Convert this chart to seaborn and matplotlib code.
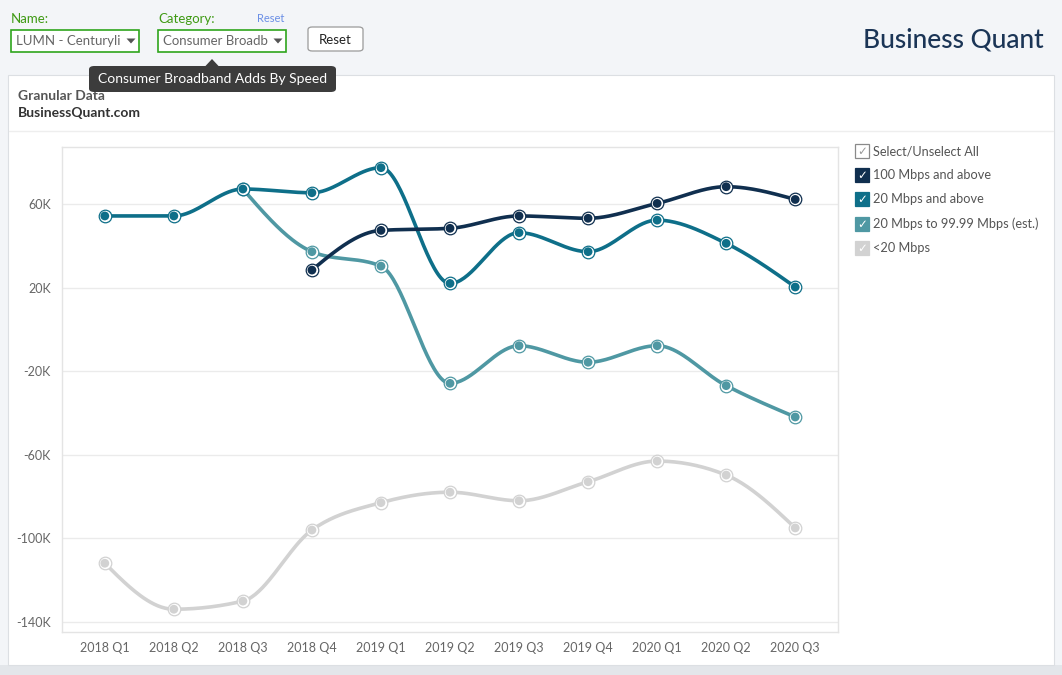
import numpy as np
import pandas as pd
import matplotlib
matplotlib.use("Agg")
import matplotlib.pyplot as plt
from matplotlib.patches import Rectangle, FancyBboxPatch, Polygon
import seaborn as sns

# ---------------- data ----------------
quarters = ["2018 Q1", "2018 Q2", "2018 Q3", "2018 Q4", "2019 Q1", "2019 Q2",
            "2019 Q3", "2019 Q4", "2020 Q1", "2020 Q2", "2020 Q3"]
series_names = ["100 Mbps and above", "20 Mbps and above",
                "20 Mbps to 99.99 Mbps (est.)", "<20 Mbps"]
mbps100_plus = [None, None, None, 28.4, 47.4, 48.4, 54.3, 53.2, 60.3, 68.3, 62.2]
mbps20_plus = [54.3, 54.3, 67.2, 65.4, 77.4, 22.0, 46.3, 37.2, 52.3, 41.2, 20.3]
mbps20_to_99 = [None, None, 67.2, 37.2, 30.3, -25.8, -7.8, -15.7, -7.8, -26.9, -41.9]
mbps_under20 = [-111.9, -133.9, -130.0, -96.0, -82.9, -77.9, -82.0, -72.9, -63.0, -69.7, -95.0]
y_ticks = [60, 20, -20, -60, -100, -140]
colors = ["#102f4f", "#0e6f89", "#4f98a3", "#d2d2d2"]
values = [mbps100_plus, mbps20_plus, mbps20_to_99, mbps_under20]

sns.set_theme(style="white")
plt.rcParams['font.family'] = ['Lato', 'DejaVu Sans']

W, H = 1062, 675
fig = plt.figure(figsize=(W / 100, H / 100), dpi=100)
fig.patch.set_facecolor("#f3f5f8")


def fx(x):
    return x / W


def fy(y):
    return 1 - y / H


# background pieces
fig.patches.append(Rectangle((0, fy(675)), 1, 10 / H, transform=fig.transFigure,
                             facecolor="#e3e6ea", edgecolor="none", zorder=-3))
fig.patches.append(Rectangle((fx(8), fy(665)), (1054 - 8) / W, (665 - 75) / H,
                             transform=fig.transFigure, facecolor="white",
                             edgecolor="#dcdfe3", linewidth=0.8, zorder=-2))
fig.lines.append(plt.Line2D([fx(9), fx(1053)], [fy(131), fy(131)],
                            transform=fig.transFigure, color="#eeeeee", lw=1, zorder=-1))

# ---------------- header controls ----------------
green = "#3f9a14"
fig.text(fx(11), fy(19), "Name:", color=green, fontsize=9.5, va="center", ha="left")
fig.text(fx(158), fy(19), "Category:", color=green, fontsize=9.5, va="center", ha="left")
fig.text(fx(257), fy(18), "Reset", color="#6b8fe6", fontsize=8, va="center", ha="left")
for x0, txt in [(11, "LUMN - Centuryli"), (158, "Consumer Broadb")]:
    fig.patches.append(Rectangle((fx(x0), fy(52)), 128 / W, 22 / H, transform=fig.transFigure,
                                 facecolor="white", edgecolor="#2fa51d", linewidth=1.2))
    fig.text(fx(x0 + 5), fy(41), txt, color="#666666", fontsize=9.5, va="center", ha="left")
    tx = x0 + 120
    fig.patches.append(Polygon([(fx(tx - 4.5), fy(38.5)), (fx(tx + 4.5), fy(38.5)), (fx(tx), fy(43.5))],
                               closed=True, transform=fig.transFigure,
                               facecolor="#555555", edgecolor="none"))
fig.patches.append(FancyBboxPatch((fx(308), fy(51)), 55 / W, 24 / H,
                                  boxstyle="round,pad=0,rounding_size=0.004",
                                  transform=fig.transFigure, facecolor="white",
                                  edgecolor="#9a9a9a", linewidth=0.9))
fig.text(fx(335.5), fy(39.5), "Reset", color="#222222", fontsize=9.5, va="center", ha="center")

# tooltip
fig.patches.append(FancyBboxPatch((fx(89), fy(92)), 247 / W, 26 / H,
                                  boxstyle="round,pad=0,rounding_size=0.005",
                                  transform=fig.transFigure, facecolor="#3c3c3c",
                                  edgecolor="none", zorder=5))
fig.patches.append(Polygon([(fx(205), fy(66.5)), (fx(219), fy(66.5)), (fx(212), fy(59))],
                           closed=True, transform=fig.transFigure,
                           facecolor="#3c3c3c", edgecolor="none", zorder=5))
fig.text(fx(212.5), fy(79), "Consumer Broadband Adds By Speed", color="white",
         fontsize=10, va="center", ha="center", zorder=6)

# logo
fig.text(fx(1044), fy(40), "Business Quant", color="#1b3556", fontsize=19,
         va="center", ha="right", fontweight="medium")

# card titles
fig.text(fx(18), fy(96), "Granular Data", color="#555555", fontsize=10,
         va="center", ha="left", fontweight="bold")
fig.text(fx(18), fy(113), "BusinessQuant.com", color="#333333", fontsize=10,
         va="center", ha="left", fontweight="bold")

# ---------------- chart ----------------
ax = fig.add_axes([fx(62), fy(632), (838 - 62) / W, (632 - 147) / H])
ax.set_facecolor("white")
ax.set_zorder(2)


def monotone_curve(xs, ys, n=40):
    xs = np.asarray(xs, float)
    ys = np.asarray(ys, float)
    m = len(xs)
    h = np.diff(xs)
    s = np.diff(ys) / h
    t = np.zeros(m)
    for i in range(1, m - 1):
        h0, h1, s0, s1 = h[i - 1], h[i], s[i - 1], s[i]
        p = (s0 * h1 + s1 * h0) / (h0 + h1)
        t[i] = (np.sign(s0) + np.sign(s1)) * min(abs(s0), abs(s1), 0.5 * abs(p))
    if m > 2:
        t[0] = (3 * s[0] - t[1]) / 2
        t[-1] = (3 * s[-1] - t[-2]) / 2
    else:
        t[:] = s[0]
    out_x, out_y = [], []
    for i in range(m - 1):
        u = np.linspace(0, 1, n)
        h00 = 2 * u ** 3 - 3 * u ** 2 + 1
        h10 = u ** 3 - 2 * u ** 2 + u
        h01 = -2 * u ** 3 + 3 * u ** 2
        h11 = u ** 3 - u ** 2
        yy = h00 * ys[i] + h10 * h[i] * t[i] + h01 * ys[i + 1] + h11 * h[i] * t[i + 1]
        out_x.extend(xs[i] + u * h[i])
        out_y.extend(yy)
    return np.array(out_x), np.array(out_y)


rows_pts = []
rows_curve = []
for name, vals in zip(series_names, values):
    xs = [i for i, v in enumerate(vals) if v is not None]
    ys = [v for v in vals if v is not None]
    for x, y in zip(xs, ys):
        rows_pts.append({"series": name, "x": x, "y": y})
    cx, cy = monotone_curve(xs, ys)
    for x, y in zip(cx, cy):
        rows_curve.append({"series": name, "x": x, "y": y})
pts = pd.DataFrame(rows_pts)
curve = pd.DataFrame(rows_curve)
palette = dict(zip(series_names, colors))

draw_order = series_names[::-1]
for k, name in enumerate(draw_order):
    z = 3 + k
    sub = curve[curve.series == name]
    sns.lineplot(data=sub, x="x", y="y", color=palette[name], sort=False,
                 estimator=None, linewidth=2.6, ax=ax, legend=False, zorder=z)
    sp = pts[pts.series == name]
    sns.scatterplot(data=sp, x="x", y="y", s=82, color="white", edgecolor=palette[name],
                    linewidth=0.9, ax=ax, legend=False, zorder=z + 0.1)
    sns.scatterplot(data=sp, x="x", y="y", s=40, color=palette[name], edgecolor="none",
                    linewidth=0, ax=ax, legend=False, zorder=z + 0.2)

ax.set_xlim(-0.62, 10.62)
ax.set_ylim(-144.8, 87.3)
ax.set_xticks(range(len(quarters)))
ax.set_xticklabels(quarters)
ax.set_yticks(y_ticks)
ax.set_yticklabels([f"{v}K" for v in y_ticks])
ax.tick_params(axis="both", length=0, labelsize=9, labelcolor="#666666")
ax.tick_params(axis="x", pad=7)
ax.tick_params(axis="y", pad=8)
ax.set_xlabel("")
ax.set_ylabel("")
ax.yaxis.grid(True, color="#ebebeb", linewidth=1)
ax.xaxis.grid(False)
ax.set_axisbelow(True)
for sp_ in ax.spines.values():
    sp_.set_visible(True)
    sp_.set_color("#e4e4e4")
    sp_.set_linewidth(1)

# ---------------- legend (checkbox list) ----------------
leg_rows = [("Select/Unselect All", None)] + list(zip(series_names, colors))
for i, (label, col) in enumerate(leg_rows):
    yc = 151 + i * 24.2
    if col is None:
        fig.patches.append(Rectangle((fx(855), fy(yc + 7)), 14 / W, 14 / H,
                                     transform=fig.transFigure, facecolor="white",
                                     edgecolor="#8a8a8a", linewidth=0.9))
        ccol = "#9a9a9a"
    else:
        fig.patches.append(Rectangle((fx(855), fy(yc + 7)), 14 / W, 14 / H,
                                     transform=fig.transFigure, facecolor=col,
                                     edgecolor=col, linewidth=0.9))
        ccol = "white"
    fig.text(fx(862), fy(yc + 0.5), "\u2713", color=ccol, fontsize=8.5,
             ha="center", va="center", family=["DejaVu Sans"])
    fig.text(fx(873), fy(yc), label, color="#555555", fontsize=9.2,
             ha="left", va="center")

fig.savefig("out.png", dpi=100, facecolor=fig.get_facecolor())
